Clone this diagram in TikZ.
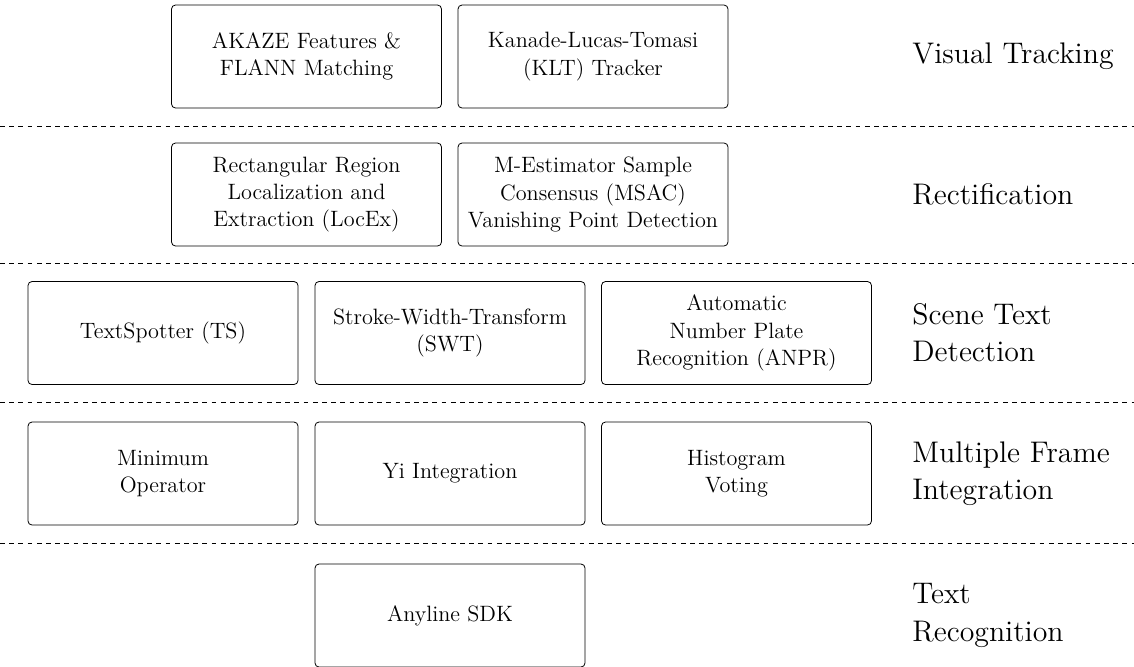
\documentclass[tikz,border=0pt]{standalone}
\usepackage{tikz}

\tikzset{
  method/.style={draw, rounded corners=2pt, minimum width=135pt, minimum height=51.5pt,
    inner sep=2pt, align=center, font=\fontsize{11.1}{13.7}\selectfont},
  stage/.style={anchor=west, align=left, inner sep=0pt, font=\fontsize{14.9}{18.6}\selectfont},
  divider/.style={dash pattern=on 2.4pt off 2.2pt}
}

\begin{document}
\begin{tikzpicture}[x=0.5pt, y=-0.5pt]
            \useasboundingbox (0,0) rectangle (1134,666);

            % visual tracking
            \node[method] (akaze) at (306.5, 56.5) {AKAZE Features \&\\FLANN Matching};
            \node[method] (klt) at (593, 56.5) {Kanade-Lucas-Tomasi\\(KLT) Tracker};
            \node[stage] (track) at (912, 56.5) {Visual Tracking};
            \coordinate (d1l) at (0, 126);
            \coordinate (d1r) at (1134, 126);
            \draw[divider] (d1l) -- (d1r);

            % rectification
            \node[method] (locex) at (306.5, 194.5) {Rectangular Region\\Localization and\\Extraction (LocEx)};
            \node[method] (msac) at (593, 194.5) {M-Estimator Sample\\Consensus (MSAC)\\Vanishing Point Detection};
            \node[stage] (rect) at (912, 194.5) {Rectification};
            \coordinate (d2l) at (0, 263);
            \coordinate (d2r) at (1134, 263);
            \draw[divider] (d2l) -- (d2r);

            % scene text detection
            \node[method] (ts) at (163, 333) {TextSpotter (TS)};
            \node[method] (swt) at (450, 333) {Stroke-Width-Transform\\(SWT)};
            \node[method] (anpr) at (736.5, 333) {Automatic\\Number Plate\\Recognition (ANPR)};
            \node[stage] (detect) at (912, 333) {Scene Text\\Detection};
            \coordinate (d3l) at (0, 402);
            \coordinate (d3r) at (1134, 402);
            \draw[divider] (d3l) -- (d3r);

            % multiple frame integration
            \node[method] (minop) at (163, 473.5) {Minimum\\Operator};
            \node[method] (yi) at (450, 473.5) {Yi Integration};
            \node[method] (histo) at (736.5, 473.5) {Histogram\\Voting};
            \node[stage] (integ) at (912, 473.5) {Multiple Frame\\Integration};
            \coordinate (d4l) at (0, 543);
            \coordinate (d4r) at (1134, 543);
            \draw[divider] (d4l) -- (d4r);

            % text recognition
            \node[method] (anyline) at (450, 615.5) {Anyline SDK};
            \node[stage] (recog) at (912, 615.5) {Text\\Recognition};
        \end{tikzpicture}
\end{document}
